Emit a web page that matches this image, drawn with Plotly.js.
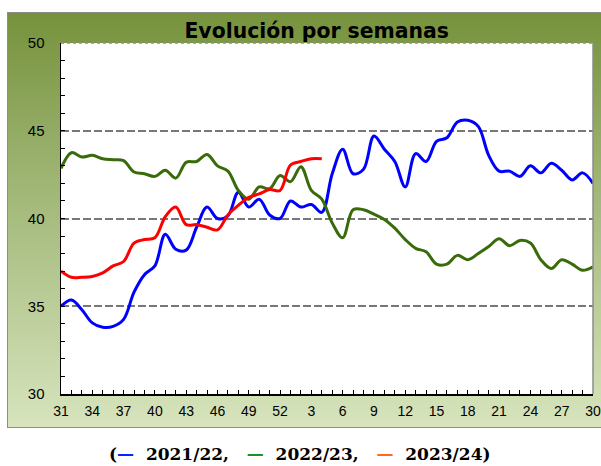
<!DOCTYPE html>
<html>
<head>
<meta charset="utf-8">
<script src="https://cdn.plot.ly/plotly-3.0.1.min.js"></script>
<style>
html,body{margin:0;padding:0;background:#fff;width:601px;height:466px;overflow:hidden;}
#bg{position:absolute;left:7px;top:12px;width:593px;height:414px;border:1px solid #8c8c8c;
background:linear-gradient(to bottom,#76923c 0%,#a3b97a 45%,#d7e4bd 100%);}
#chart{position:absolute;left:0;top:0;width:601px;height:466px;}
</style>
</head>
<body>
<div id="bg"></div>
<div id="chart"></div>
<script>
const weeks = ['31','32','33','34','35','36','37','38','39','40','41','42','43','44','45','46','47','48','49','50','51','52',
  '1','2','3','4','5','6','7','8','9','10','11','12','13','14','15','16','17','18','19','20','21','22','23','24','25','26','27','28','29','30'];
const s2122 = [35.0,35.35,34.8,34.05,33.8,33.85,34.25,35.8,36.8,37.3,39.1,38.25,38.2,39.5,40.65,40.0,40.15,41.5,40.65,41.1,40.2,40.0,
  41.0,40.65,40.8,40.35,42.55,43.95,42.55,42.8,44.7,43.95,43.25,41.8,43.7,43.25,44.4,44.6,45.5,45.6,45.25,43.6,42.7,42.7,42.4,43.0,42.6,43.15,42.75,42.2,42.6,42.0];
const s2223 = [42.85,43.75,43.5,43.6,43.4,43.35,43.3,42.65,42.55,42.4,42.75,42.3,43.2,43.25,43.65,43.0,42.7,41.6,41.1,41.8,41.7,42.45,
  42.1,42.95,41.6,41.1,39.75,38.9,40.5,40.5,40.25,39.95,39.45,38.8,38.3,38.1,37.4,37.4,37.9,37.65,38.0,38.4,38.85,38.45,38.75,38.6,37.65,37.15,37.65,37.4,37.05,37.25];
const s2324 = [37.0,36.65,36.65,36.7,36.9,37.3,37.55,38.6,38.8,38.9,40.1,40.65,39.65,39.65,39.5,39.35,40.2,40.75,41.2,41.4,41.65,41.6,
  43.05,43.25,43.4,43.4];
const seriesNames = ['2021/22','2022/23','2023/24'];
const lineColors = ['#0000ff','#3a6b0a','#ff0000'];
const legendColors = ['#0026ff','#1f8f1f','#ff6a1a'];
const yTicks = [30,35,40,45,50];

const idx = weeks.map((w,i)=>i);
const tickIdx = idx.filter(i=>i%3===0);

function tr(vals,k){
  return {x: idx.slice(0,vals.length), y: vals, type:'scatter', mode:'lines', name: seriesNames[k],
    line:{color: lineColors[k], width:3, shape:'spline', smoothing:1}, hoverinfo:'skip'};
}
const data = [tr(s2122,0), tr(s2223,1), tr(s2324,2)];

const NB = '\u00A0';
const legendText = '(' + seriesNames.map((n,k)=>
  '<span style="color:'+legendColors[k]+'">—</span>'+NB+NB+n).join(','+NB+NB+NB) + ')';

const layout = {
  width:601, height:466,
  margin:{l:61, r:8, t:43, b:72},
  paper_bgcolor:'rgba(0,0,0,0)',
  plot_bgcolor:'#ffffff',
  showlegend:false,
  font:{family:'"Liberation Sans", Arial, sans-serif', color:'#000', size:14},
  title:{text:'Evolución por semanas', x:0.527, xref:'container', y:0.934, yref:'container', yanchor:'middle', xanchor:'center',
    font:{family:'"DejaVu Sans", "Liberation Sans", sans-serif', size:20.4, weight:'bold', color:'#000'}},
  xaxis:{range:[0,51], tickvals:tickIdx, ticktext:tickIdx.map(i=>weeks[i]), showgrid:false, zeroline:false,
    showline:true, linecolor:'#000', linewidth:1.5, ticks:'inside', ticklen:4, tickcolor:'#000', tickwidth:1,
    minor:{dtick:1, tick0:0, ticks:'inside', ticklen:4, tickcolor:'#000', showgrid:false},
    tickfont:{size:14}, ticklabelstandoff:4, mirror:false, fixedrange:true},
  yaxis:{range:[30,50], tickvals:yTicks, showgrid:true, gridcolor:'#777777', gridwidth:2, griddash:'8px,3px',
    zeroline:false, showline:true, linecolor:'#000', linewidth:1.5, ticks:'inside', ticklen:4, tickcolor:'#000',
    minor:{dtick:1, ticks:'inside', ticklen:4, tickcolor:'#000', showgrid:false},
    tickfont:{size:15}, ticklabelstandoff:12, fixedrange:true},
  shapes:[
    {type:'line', xref:'paper', yref:'paper', x0:1, x1:1, y0:0, y1:1, line:{color:'#8c8c8c', width:1.5}},
    {type:'line', xref:'paper', yref:'paper', x0:0, x1:1, y0:1, y1:1, line:{color:'#8c8c8c', width:1.5, dash:'3px,3px'}}
  ],
  annotations:[{xref:'paper', yref:'paper', x:0.449, y:-0.171, xanchor:'center', yanchor:'middle', showarrow:false,
    text: legendText, font:{family:'"DejaVu Serif", "Liberation Serif", serif', size:17, weight:'bold', color:'#000'}}]
};
Plotly.newPlot('chart', data, layout, {staticPlot:true, displayModeBar:false});
</script>
</body>
</html>
